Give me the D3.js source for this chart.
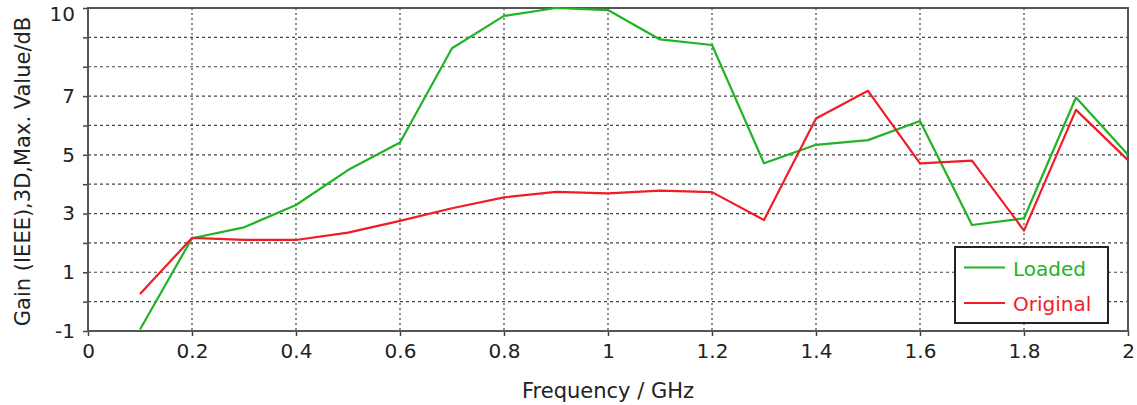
<!DOCTYPE html>
<html>
<head>
<meta charset="utf-8">
<script src="https://cdn.jsdelivr.net/npm/d3@7"></script>
<style>
  html, body { margin: 0; padding: 0; background: #fff; }
  svg { display: block; }
  text { font-family: "DejaVu Sans", Verdana, sans-serif; fill: #222; }
</style>
</head>
<body>
<svg id="chart" width="1137" height="405"></svg>
<script>
// ---- data ----
const frequencies = [0.1, 0.2, 0.3, 0.4, 0.5, 0.6, 0.7, 0.8, 0.9, 1.0, 1.1, 1.2, 1.3, 1.4, 1.5, 1.6, 1.7, 1.8, 1.9, 2.0];
const loaded   = [-0.95, 2.16, 2.53, 3.29, 4.48, 5.42, 8.63, 9.73, 10.0, 9.93, 8.93, 8.74, 4.71, 5.34, 5.5, 6.15, 2.61, 2.84, 6.95, 5.0];
const original = [0.26, 2.17, 2.1, 2.1, 2.35, 2.75, 3.18, 3.55, 3.74, 3.69, 3.78, 3.73, 2.78, 6.24, 7.18, 4.71, 4.8, 2.42, 6.53, 4.82];
const seriesNames = ["Loaded", "Original"];
const xTicks = [0, 0.2, 0.4, 0.6, 0.8, 1, 1.2, 1.4, 1.6, 1.8, 2];
const yTickLabels = [-1, 1, 3, 5, 7, 10];
const yGrid = [0, 1, 2, 3, 4, 5, 6, 7, 8, 9];
const xTitle = "Frequency / GHz";
const yTitle = "Gain (IEEE),3D,Max. Value/dB";

// ---- layout ----
const colors = { Loaded: "#20b423", Original: "#f01c28" };
const L = 88, R = 1128, T = 8, B = 331;

const svg = d3.select("#chart");
const x = d3.scaleLinear().domain([0, 2]).range([L, R]);
const y = d3.scaleLinear().domain([-1, 10]).range([B, T]);

// gridlines
svg.append("g").selectAll("line").data(yGrid).join("line")
  .attr("x1", L).attr("x2", R)
  .attr("y1", d => y(d)).attr("y2", d => y(d))
  .attr("stroke", "#444").attr("stroke-width", 1.2).attr("stroke-dasharray", "3,3");
svg.append("g").selectAll("line").data(xTicks.slice(1, -1)).join("line")
  .attr("x1", d => x(d)).attr("x2", d => x(d))
  .attr("y1", T).attr("y2", B)
  .attr("stroke", "#444").attr("stroke-width", 1.2).attr("stroke-dasharray", "2,3");

// axes
const xAxis = d3.axisBottom(x).tickValues(xTicks).tickSize(5).tickPadding(8)
  .tickFormat(d => String(+d.toFixed(1)));
const gx = svg.append("g").attr("transform", `translate(0,${B})`).call(xAxis);
gx.select(".domain").remove();
gx.selectAll(".tick line").attr("stroke", "#444").attr("stroke-width", 1.5);
gx.selectAll(".tick text").style("font-size", "20px").attr("fill", "#222")
  .attr("font-family", "DejaVu Sans");

const yAxisTicks = d3.axisLeft(y).tickValues(d3.range(-1, 11)).tickSize(5).tickFormat("");
const gy = svg.append("g").attr("transform", `translate(${L},0)`).call(yAxisTicks);
gy.select(".domain").remove();
gy.selectAll(".tick line").attr("stroke", "#444").attr("stroke-width", 1.5);
const yLabAxis = d3.axisLeft(y).tickValues(yTickLabels).tickSize(0).tickPadding(13)
  .tickFormat(d => String(d));
const gy2 = svg.append("g").attr("transform", `translate(${L},0)`).call(yLabAxis);
gy2.select(".domain").remove();
gy2.selectAll(".tick text").style("font-size", "20px").attr("fill", "#222")
  .attr("font-family", "DejaVu Sans");
// keep the top label inside the picture
gy2.selectAll(".tick text").filter(d => d === 10).attr("dy", "0.62em");

// frame
svg.append("rect").attr("x", L).attr("y", T).attr("width", R - L).attr("height", B - T)
  .attr("fill", "none").attr("stroke", "#555").attr("stroke-width", 2);

// lines
const line = d3.line().x(d => x(d[0])).y(d => y(d[1]));
const seriesData = { Loaded: loaded, Original: original };
seriesNames.forEach(name => {
  svg.append("path")
    .datum(frequencies.map((f, i) => [f, seriesData[name][i]]))
    .attr("d", line).attr("fill", "none")
    .attr("stroke", colors[name]).attr("stroke-width", 2.2)
    .attr("stroke-linejoin", "round");
});

// axis titles
svg.append("text").attr("x", (L + R) / 2).attr("y", 398)
  .attr("text-anchor", "middle").style("font-size", "21px").text(xTitle);
svg.append("text").attr("transform", `translate(30,${(T + B) / 2 + 2}) rotate(-90)`)
  .attr("text-anchor", "middle").style("font-size", "21px").text(yTitle);

// legend
const lg = svg.append("g");
lg.append("rect").attr("x", 955).attr("y", 247).attr("width", 153).attr("height", 76)
  .attr("fill", "#fff").attr("stroke", "#222").attr("stroke-width", 2);
seriesNames.forEach((name, i) => {
  const cy = 267.5 + i * 35.5;
  lg.append("line").attr("x1", 964).attr("x2", 1005).attr("y1", cy).attr("y2", cy)
    .attr("stroke", colors[name]).attr("stroke-width", 2);
  lg.append("text").attr("x", 1013).attr("y", cy + 8).style("font-size", "20px")
    .style("fill", colors[name]).text(name);
});
</script>
</body>
</html>
